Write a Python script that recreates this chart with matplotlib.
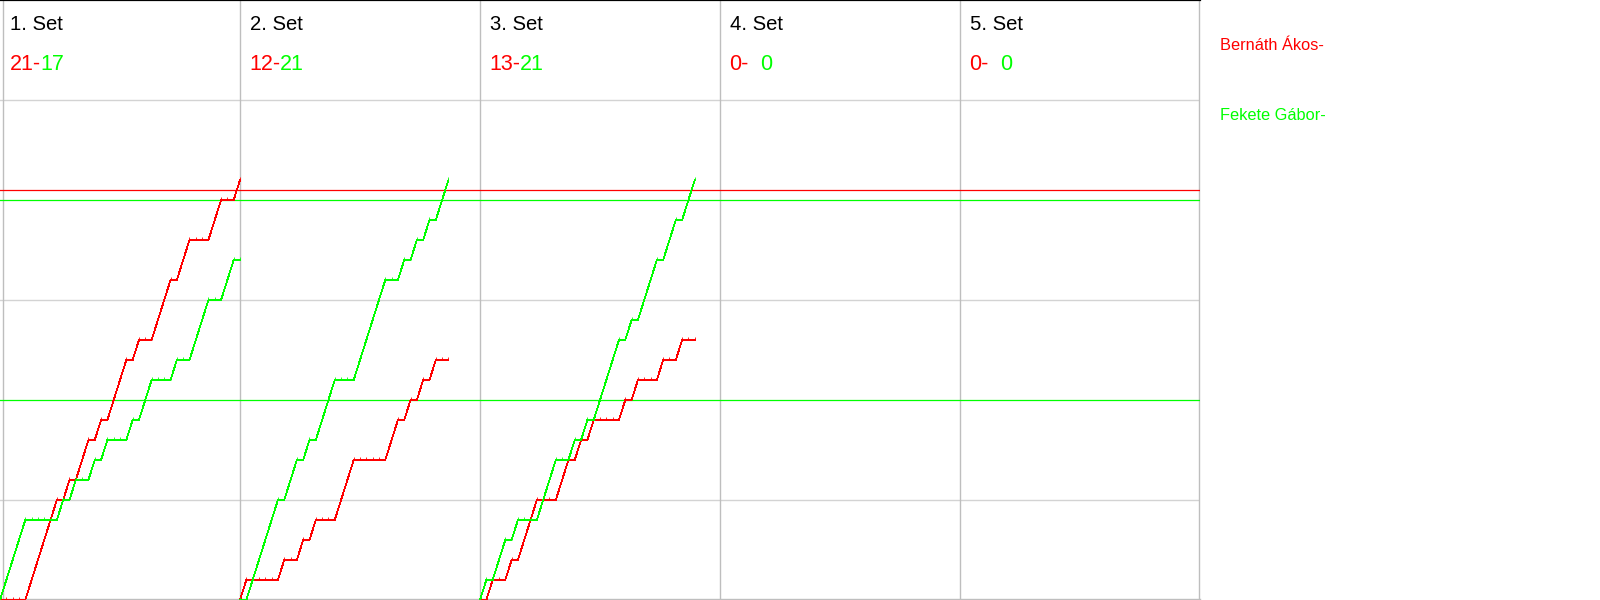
import matplotlib
matplotlib.use('Agg')
import matplotlib.pyplot as plt

plt.rcParams['font.family'] = ['Liberation Sans', 'DejaVu Sans']

RED = '#ff0000'
GREEN = '#00ff00'

players = ['Bernáth Ákos', 'Fekete Gábor']
set_labels = ['1. Set', '2. Set', '3. Set', '4. Set', '5. Set']
red_set_scores = [21, 12, 13, 0, 0]
green_set_scores = [17, 21, 21, 0, 0]

# running score after each rally (rally 0 = start of set)
red_set1 = [0, 0, 0, 0, 0, 1, 2, 3, 4, 5, 5, 6, 6, 7, 8, 8, 9, 9, 10, 11, 12,
            12, 13, 13, 13, 14, 15, 16, 16, 17, 18, 18, 18, 18, 19, 20, 20, 20, 21]
green_set1 = [0, 1, 2, 3, 4, 4, 4, 4, 4, 4, 5, 5, 6, 6, 6, 7, 7, 8, 8, 8, 8,
              9, 9, 10, 11, 11, 11, 11, 12, 12, 12, 13, 14, 15, 15, 15, 16, 17, 17]
red_set2 = [0, 1, 1, 1, 1, 1, 1, 2, 2, 2, 3, 3, 4, 4, 4, 4, 5, 6, 7, 7, 7,
            7, 7, 7, 8, 9, 9, 10, 10, 11, 11, 12, 12, 12]
green_set2 = [0, 0, 1, 2, 3, 4, 5, 5, 6, 7, 7, 8, 8, 9, 10, 11, 11, 11, 11, 12, 13,
              14, 15, 16, 16, 16, 17, 17, 18, 18, 19, 19, 20, 21]
red_set3 = [0, 0, 1, 1, 1, 2, 2, 3, 4, 5, 5, 5, 5, 6, 7, 7, 8, 8, 9, 9, 9,
            9, 9, 10, 10, 11, 11, 11, 11, 12, 12, 12, 13, 13, 13]
green_set3 = [0, 1, 1, 2, 3, 3, 4, 4, 4, 4, 5, 6, 7, 7, 7, 8, 8, 9, 9, 10, 11,
              12, 13, 13, 14, 14, 15, 16, 17, 17, 18, 19, 19, 20, 21]
red_runs = [red_set1, red_set2, red_set3, [], []]
green_runs = [green_set1, green_set2, green_set3, [], []]

red_ref = [20.5]
green_ref = [20, 10]
grid_y = [5, 15, 25]

PANEL = 38  # rallies per panel width
W, H = 1600, 600


def fx(px):
    return px / W


def fy(py):
    return 1 - py / H


fig = plt.figure(figsize=(16, 6), dpi=100)
ax = fig.add_axes([0, 0, 0.75, 1])
ax.set_xlim(0, 5 * PANEL)
ax.set_ylim(0, 30)
ax.axis('off')

# grid and panel borders
for y in grid_y:
    ax.axhline(y, color='#d3d3d3', lw=1.0, zorder=1)
ax.axhline(0.05, color='#bebebe', lw=1.0, zorder=1, clip_on=False)
for k in range(1, 6):
    ax.axvline(PANEL * k - (0.08 if k == 5 else 0), color='#bebebe', lw=1.0, zorder=1, clip_on=False)
ax.axvline(0.4, color='#bebebe', lw=1.0, zorder=1, clip_on=False)
ax.axhline(30, color='black', lw=1.6, zorder=3, clip_on=False)

for y in red_ref:
    ax.axhline(y, color=RED, lw=0.9, zorder=2)
for y in green_ref:
    ax.axhline(y, color=GREEN, lw=0.9, zorder=2)

for k in range(5):
    for run, col in ((red_runs[k], RED), (green_runs[k], GREEN)):
        if not run:
            continue
        xs = [PANEL * k + i for i in range(len(run))]
        ax.plot(xs, run, color=col, lw=0.55, marker=2, ms=2.5, mew=0.6,
                zorder=4, antialiased=False)

for k in range(5):
    x0 = 240 * k
    fig.text(fx(x0 + 10), fy(30), set_labels[k], fontsize=14.6, va='baseline', color='black')
    fig.text(fx(x0 + 9.5), fy(70), f'{red_set_scores[k]}-', fontsize=15.5, va='baseline', color=RED)
    fig.text(fx(x0 + 40), fy(70), f'{green_set_scores[k]}', fontsize=15.5, va='baseline', color=GREEN)

fig.text(fx(1220), fy(50), players[0] + '-', fontsize=11.8, va='baseline', color=RED)
fig.text(fx(1220), fy(120), players[1] + '-', fontsize=11.8, va='baseline', color=GREEN)

fig.savefig('out.png', dpi=100)
